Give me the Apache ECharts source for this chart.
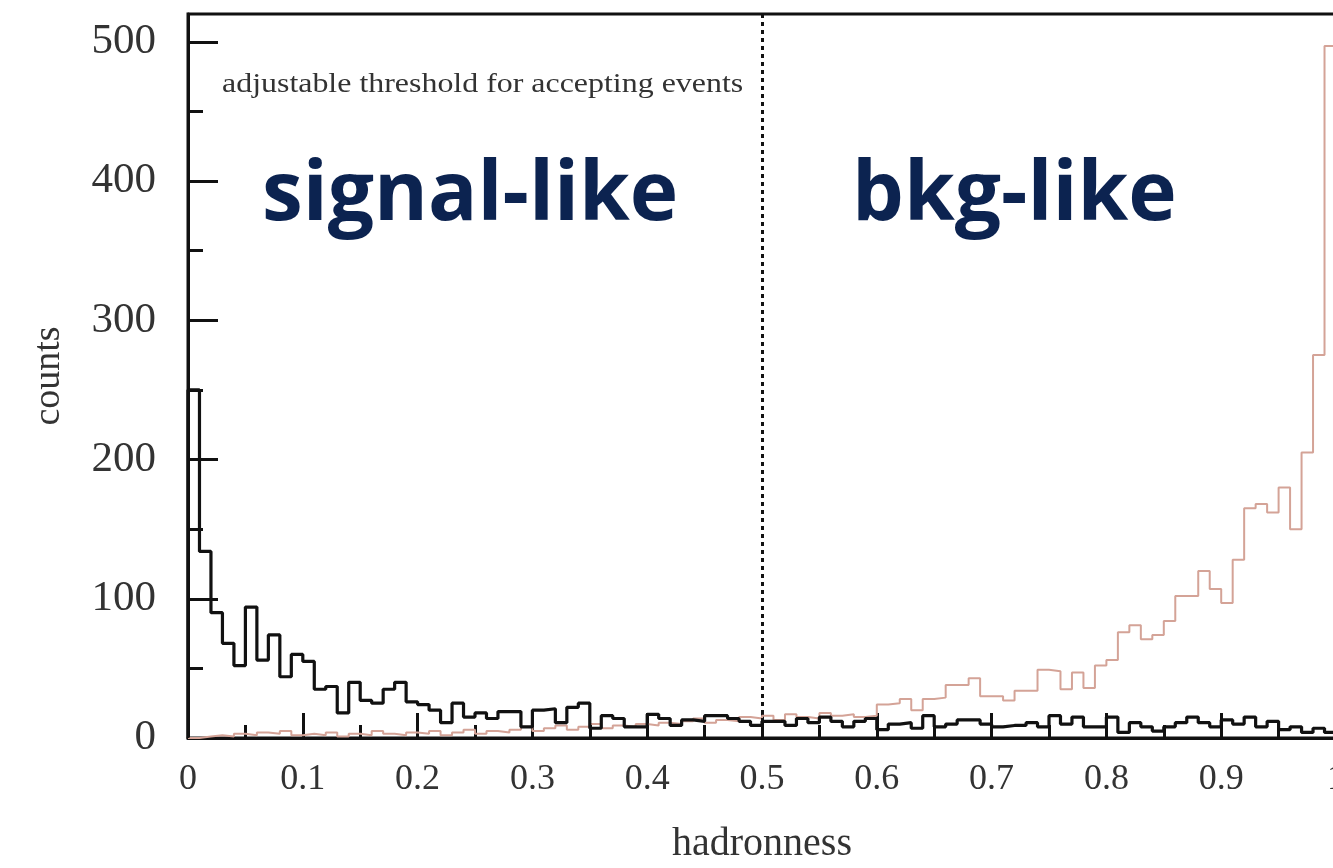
<!DOCTYPE html>
<html><head><meta charset="utf-8">
<script src="https://cdn.jsdelivr.net/npm/echarts@6/dist/echarts.min.js"></script>
<style>html,body{margin:0;padding:0;background:#fff}#c{width:1333px;height:868px}</style>
</head><body><div id="c"></div>
<script>
// ---- data ----
const binWidth = 0.01;
const signalCounts = [
  250,134,90,68,52,94,56,74,44,60,
  55,35,37,18,40,27,25,35,40,26,
  24,20,11,25,15,18,14,19,19,8,
  20,21,11,22,25,7,16,14,8,8,
  17,14,9,13,12,16,16,14,12,9,
  12,12,9,14,11,15,12,8,12,14,
  6,10,11,7,16,8,10,13,13,10,
  8,9,9,11,8,16,10,15,8,8,
  15,4,11,8,5,8,11,15,11,8,
  13,10,15,8,12,6,8,4,7,4
];
const backgroundCounts = [
  0,1,2,1,3,2,4,3,5,2,
  3,2,4,1,3,2,5,3,2,4,
  3,5,2,4,6,3,5,4,6,8,
  5,7,9,6,8,10,7,9,8,10,
  9,11,10,12,14,11,13,12,15,14,
  16,13,17,15,14,18,16,17,15,16,
  24,25,28,20,28,29,38,38,43,30,
  30,27,34,34,49,48,35,47,36,52,
  56,76,81,71,74,84,102,102,120,107,
  97,128,165,168,162,180,150,205,275,497
];
const xTickLabels = ['0','0.1','0.2','0.3','0.4','0.5','0.6','0.7','0.8','0.9','1'];
const yTickValues = [0,100,200,300,400,500];
const yMinorTickValues = [50,150,250,350,450];
const thresholdValue = 0.5;
const thresholdText = 'adjustable threshold for accepting events';
const leftRegionText = 'signal-like';
const rightRegionText = 'bkg-like';

function stepData(counts){
  const d = [[0,0]];
  counts.forEach((v,i)=>d.push([+(i*binWidth).toFixed(2), v]));
  d.push([1, counts[counts.length-1]]);
  d.push([1, 0]);
  return d;
}

const serif = '"Liberation Serif", "DejaVu Serif", serif';
const chart = echarts.init(document.getElementById('c'), null, {renderer:'canvas'});
chart.setOption({
  animation:false,
  backgroundColor:'#fff',
  grid:{left:188, top:14, right:-3, bottom:130, outerBoundsMode:'none', containLabel:false,
        show:true, borderColor:'#111', borderWidth:3, backgroundColor:'transparent'},
  xAxis:{
    type:'value', min:0, max:1, interval:0.1,
    axisLine:{show:true, onZero:false, lineStyle:{color:'#111', width:3}},
    axisTick:{show:true, inside:true, length:25, lineStyle:{color:'#111', width:3}},
    minorTick:{show:true, splitNumber:2, length:13, lineStyle:{color:'#111', width:3}},
    axisLabel:{fontFamily:serif, fontSize:36, color:'#333', margin:24, hideOverlap:false,
      formatter:v=>xTickLabels[Math.round(v*10)] ?? ''},
    splitLine:{show:false},
    name:'hadronness', nameLocation:'middle', nameGap:86,
    nameTextStyle:{fontFamily:serif, fontSize:40, color:'#333'}
  },
  yAxis:[{
    type:'value', min:0, max:520, interval:100,
    axisLine:{show:true, lineStyle:{color:'#111', width:3}},
    axisTick:{show:true, inside:true, length:30, customValues:yTickValues, lineStyle:{color:'#111', width:3}},
    axisLabel:{customValues:yTickValues, fontFamily:serif, fontSize:43, color:'#333', margin:32,
      formatter:v=>(v%100===0 && v<=500)?String(v):''},
    splitLine:{show:false},
    name:'counts', nameLocation:'middle', nameGap:120, nameRotate:90,
    nameTextStyle:{fontFamily:serif, fontSize:38, color:'#333'}
  },{
    type:'value', min:0, max:520, position:'left',
    axisLine:{show:false},
    axisTick:{show:true, inside:true, length:15, customValues:yMinorTickValues, lineStyle:{color:'#111', width:3}},
    axisLabel:{show:false},
    splitLine:{show:false}
  }],
  series:[
    {type:'line', step:'end', data:stepData(backgroundCounts), showSymbol:false, symbol:'none',
     lineStyle:{color:'#d4a397', width:2}, z:2},
    {type:'line', step:'end', data:stepData(signalCounts), showSymbol:false, symbol:'none',
     lineStyle:{color:'#111', width:3.2}, z:3,
     markLine:{silent:true, symbol:['none','none'], label:{show:false},
       lineStyle:{color:'#111', width:3, type:[4,4]},
       data:[{xAxis:thresholdValue}]}}
  ],
  graphic:[
    {type:'text', x:222, y:85, scaleX:1.14, style:{text:thresholdText, fontFamily:serif, fontSize:28, fill:'#333', align:'left', verticalAlign:'middle'}},
    {type:'text', x:262, y:197, style:{text:leftRegionText, fontFamily:'"Open Sans", Lato, sans-serif', fontWeight:'bold', fontSize:82, fill:'#0c2350', align:'left', verticalAlign:'middle'}},
    {type:'text', x:852, y:197, style:{text:rightRegionText, fontFamily:'"Open Sans", Lato, sans-serif', fontWeight:'bold', fontSize:82, fill:'#0c2350', align:'left', verticalAlign:'middle'}}
  ]
});
</script></body></html>
